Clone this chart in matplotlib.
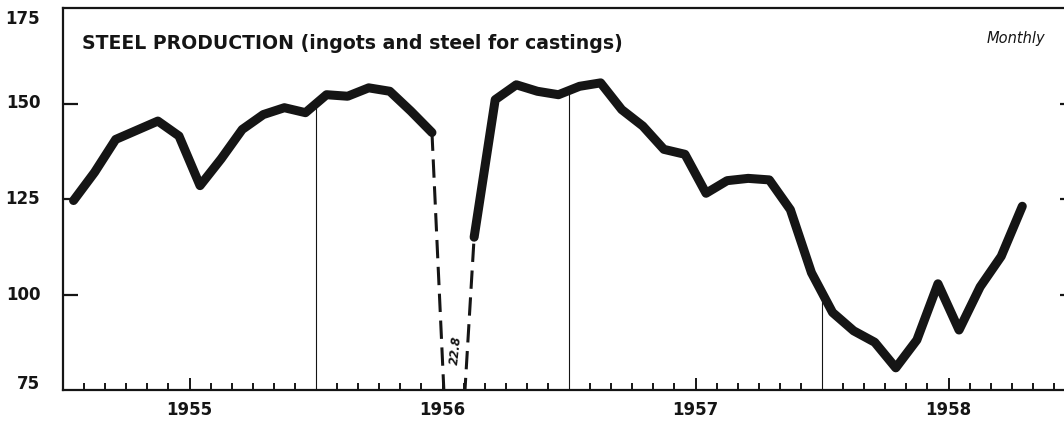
import numpy as np
import matplotlib
matplotlib.use("Agg")
import matplotlib.pyplot as plt
from matplotlib.transforms import blended_transform_factory

# monthly index, Jan 1955 - Oct 1958
start_year = 1955
values = [
    124.6, 132.0, 140.6, 143.0, 145.4, 141.5, 128.5, 135.5, 143.2, 147.1, 148.9, 147.6,  # 1955
    152.3, 151.9, 154.1, 153.2, 148.0, 142.4, 22.8, 115.0, 151.0, 154.9, 153.2, 152.3,   # 1956
    154.5, 155.4, 148.4, 144.1, 138.0, 136.7, 126.5, 129.8, 130.4, 130.0, 122.2, 105.7,  # 1957
    95.3, 90.5, 87.5, 80.8, 88.1, 102.8, 90.7, 102.0, 110.0, 123.1,                       # 1958
]
strike_month = 18          # July 1956, drawn dashed
strike_label = "22.8"

year_labels = ["1955", "1956", "1957", "1958"]
y_labels = [75, 100, 125, 150, 175]

title_bold = "STEEL PRODUCTION"
title_rest = " (ingots and steel for castings)"
freq_note = "Monthly"

ink = "#151515"

x = start_year + (np.arange(len(values)) + 0.5) / 12
y = np.array(values, dtype=float)

fig = plt.figure(figsize=(10.64, 4.22), dpi=100)
# axes runs a little past the right edge of the picture, like the scan
ax = fig.add_axes([63 / 1064, 32 / 422, 1012 / 1064, 382 / 422])

solid = y.copy()
solid[strike_month] = np.nan
ax.plot(x, solid, color=ink, lw=6.5, solid_capstyle="round", solid_joinstyle="round", zorder=3)
ax.plot(x[strike_month - 1:strike_month + 2], y[strike_month - 1:strike_month + 2],
        color=ink, lw=2.2, dashes=(6, 2.8), zorder=2)

ax.text(x[strike_month] + 0.01, 85.5, strike_label, rotation=84, fontsize=8.5, style="italic",
        fontweight="bold", ha="center", va="center", color=ink)

# thin year dividers, from the base up to the curve
for yr in range(start_year + 1, start_year + len(year_labels)):
    top = np.interp(yr, x[~np.isnan(solid)], solid[~np.isnan(solid)])
    ax.vlines(yr, 75, top, color=ink, lw=0.8, zorder=1)

ax.set_xlim(start_year, start_year + len(year_labels))
ax.set_ylim(75, 175)

for s in ["left", "top", "bottom"]:
    ax.spines[s].set_linewidth(1.6)
    ax.spines[s].set_color(ink)
ax.spines["right"].set_visible(False)

# x ticks: month boundaries, taller at mid-year, years labelled at mid-year
mid_years = [start_year + i + 0.5 for i in range(len(year_labels))]
ax.set_xticks(mid_years)
ax.set_xticklabels(year_labels, fontsize=12, fontweight="bold", color=ink)
month_marks = [start_year + m / 12 for m in range(12 * len(year_labels)) if m % 6 != 0]
ax.set_xticks(month_marks, minor=True)
ax.tick_params(axis="x", which="major", direction="in", length=8.5, width=1.4, pad=8, color=ink)
ax.tick_params(axis="x", which="minor", direction="in", length=5, width=1.4, color=ink)

ax.set_yticks([100, 125, 150])
ax.set_yticklabels([])
ax.tick_params(axis="y", which="both", direction="in", length=11, width=1.6, color=ink,
               left=True, right=True, labelleft=False)

tr = blended_transform_factory(ax.transAxes, ax.transData)
for v in y_labels:
    pos = v
    if v == 175:
        pos = v - 2.8
    elif v == 75:
        pos = v + 1.7
    ax.text(-0.0225, pos, str(v), transform=tr, ha="right", va="center",
            fontsize=12, fontweight="bold", color=ink)

t1 = ax.text(0.0188, 0.908, title_bold, transform=ax.transAxes, fontsize=13.6,
             fontweight="bold", ha="left", va="center", color=ink)
ax.annotate(title_rest, xy=(1, 0), xycoords=t1, ha="left", va="bottom",
            fontsize=13.6, fontweight="semibold", color=ink)

ax.text(0.971, 0.919, freq_note, transform=ax.transAxes, fontsize=10.5, style="italic",
        ha="right", va="center", color=ink)

fig.savefig("out.png", dpi=100)
